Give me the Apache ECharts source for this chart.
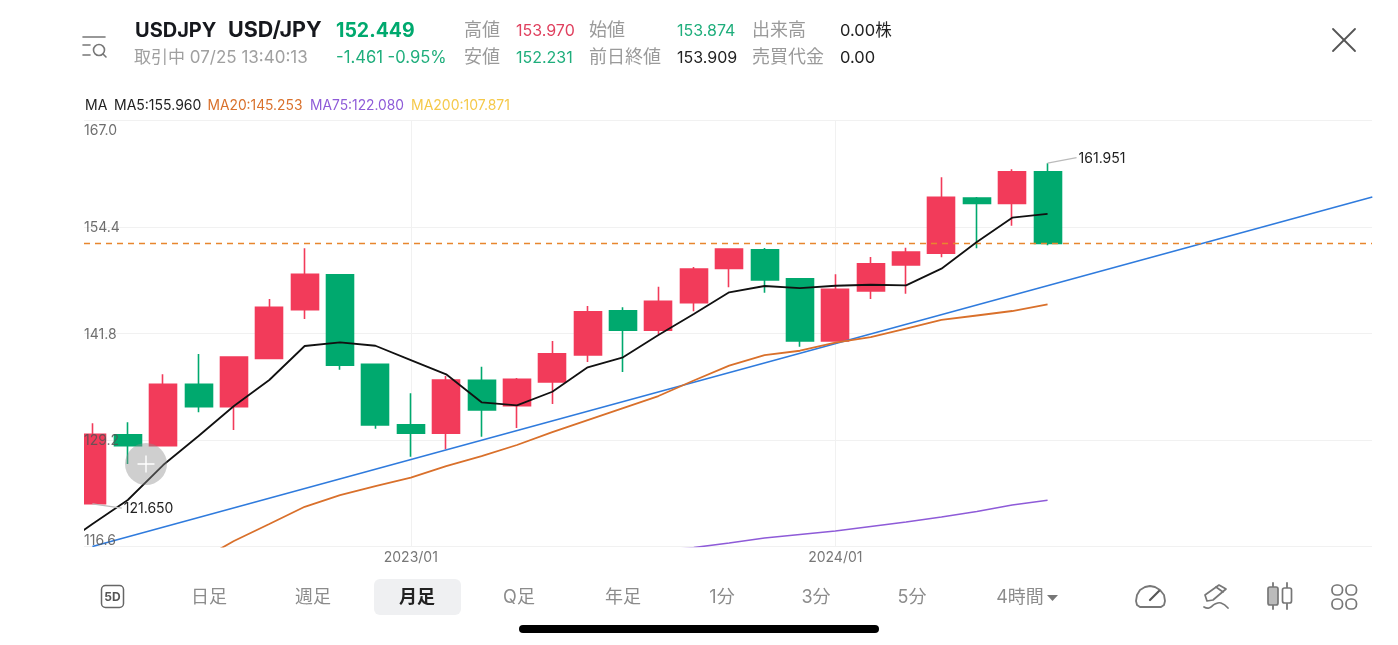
<!DOCTYPE html>
<html><head><meta charset="utf-8">
<style>html,body{margin:0;padding:0;background:#fff}#c{width:1398px;height:645px}</style>
<script src="https://cdn.jsdelivr.net/npm/echarts@6/dist/echarts.min.js"></script>
</head><body><div id="c"></div>
<script>
const months = ['2022/04','2022/05','2022/06','2022/07','2022/08','2022/09','2022/10','2022/11','2022/12','2023/01','2023/02','2023/03','2023/04','2023/05','2023/06','2023/07','2023/08','2023/09','2023/10','2023/11','2023/12','2024/01','2024/02','2024/03','2024/04','2024/05','2024/06','2024/07'];
// open, close, low, high
const ohlc = [
[121.65,129.87,121.65,131.17],[129.82,128.52,126.36,131.29],[128.52,135.79,128.52,136.97],[135.79,133.14,132.47,139.37],
[133.14,139.02,130.38,139.08],[138.86,144.90,138.86,145.88],[144.61,148.80,143.51,151.88],[148.75,138.04,137.51,148.80],
[138.15,130.97,130.53,138.15],[131.01,129.99,127.22,134.72],[129.99,136.30,128.10,136.77],[136.26,132.75,129.59,137.87],
[133.26,136.38,130.62,136.53],[136.06,139.41,133.46,140.91],[139.25,144.38,138.43,145.05],[144.50,142.18,137.24,144.90],
[142.18,145.61,141.74,147.34],[145.44,149.43,144.42,149.67],[149.51,151.80,147.26,151.80],[151.71,148.13,146.63,151.91],
[148.28,140.91,140.24,148.36],[140.91,147.03,140.91,148.80],[146.83,150.06,145.88,150.85],[149.90,151.44,146.51,151.95],
[151.29,157.91,150.81,160.28],[157.83,157.20,151.88,157.95],[157.20,160.94,154.55,161.23],[160.94,152.449,152.231,161.951]];
const ma5 = [116.3,119.26,122.10,126.24,129.67,133.22,136.30,140.32,140.76,140.35,138.66,136.97,133.66,133.30,134.91,137.80,138.98,141.62,144.11,146.67,147.42,147.18,147.45,147.57,147.50,149.47,152.62,155.50,155.96];
const ma5Start = -1;
const ma20 = [114.88,117.25,119.26,121.30,122.69,123.75,124.74,126.12,127.30,128.61,130.14,131.56,132.98,134.40,136.24,137.99,139.25,139.76,140.71,141.38,142.39,143.40,143.93,144.46,145.253];
const ma20Start = 3;
const ma75 = [116.06,116.48,117.01,117.60,118.02,118.43,118.96,119.49,120.09,120.74,121.51,122.08];
const ma75Start = 16;
const trendLine = [[0,116.6],[36.18,157.95]];
const lastPrice = 152.449;
const highLeader = [[27,161.951],[27.82,162.6]];
const lowLeader = [[0,121.65],[0.83,121.15]];
const yTicks = [116.6,129.2,141.8,154.4,167.0];
const yTicksInner = [129.2,141.8,154.4];
const yTicksOuter = [116.6,167.0];
const xTicks = [9,21];
const xMin = -0.238, xMax = 36.171;

const RED='#F23B5A', GREEN='#00A96E', CJK='Inter,"Noto Sans CJK JP","Noto Sans",sans-serif';
const idx = (arr,s)=>arr.map((v,i)=>[i+s,v]);

const headerRows = [
 {x:135,y:31,s:'USDJPY',c:'#16181d',z:20,w:'700'},
 {x:228,y:31,s:'USD/JPY',c:'#16181d',z:21.5,w:'700'},
 {x:336,y:31,s:'152.449',c:GREEN,z:19.5,w:'700'},
 {x:134,y:58,s:'取引中 07/25 13:40:13',c:'#a0a0a0',z:17},
 {x:336,y:58,s:'-1.461 -0.95%',c:'#1FAE7C',z:16.6},
 {x:464,y:31,s:'高値',c:'#9a9a9a',z:18},{x:516,y:31,s:'153.970',c:'#E0415F',z:16},
 {x:589,y:31,s:'始値',c:'#9a9a9a',z:18},{x:677,y:31,s:'153.874',c:'#1FAE7C',z:16},
 {x:752,y:31,s:'出来高',c:'#9a9a9a',z:18},{x:840,y:31,s:'0.00株',c:'#222',z:16.5},
 {x:464,y:58,s:'安値',c:'#9a9a9a',z:18},{x:516,y:58,s:'152.231',c:'#1FAE7C',z:16},
 {x:589,y:58,s:'前日終値',c:'#9a9a9a',z:18},{x:677,y:58,s:'153.909',c:'#222',z:16},
 {x:752,y:58,s:'売買代金',c:'#9a9a9a',z:18},{x:840,y:58,s:'0.00',c:'#222',z:16.5},
 {x:85,y:105.5,s:'MA',c:'#222',z:14},{x:114,y:105.5,s:'MA5:155.960',c:'#222',z:14},
 {x:207.5,y:105.5,s:'MA20:145.253',c:'#D9702B',z:13.8},{x:310,y:105.5,s:'MA75:122.080',c:'#8E5BD8',z:13.8},
 {x:411,y:105.5,s:'MA200:107.871',c:'#F5C94A',z:14}
];
const tabs = ['日足','週足','月足','Q足','年足','1分','3分','5分','4時間'];
const tabX = [209,313,417,519,623,722,816,912,1020];

function t(o){return {type:'text',x:o.x,y:o.y,z:20,silent:true,style:{text:o.s,fill:o.c,font:(o.w||'400')+' '+o.z+'px '+CJK,verticalAlign:'middle',align:o.a||'left'}};}
const stroke=(c,w)=>({stroke:c,lineWidth:w,fill:'none',lineCap:'round',lineJoin:'round'});
function pl(points,c,w,smooth){return {type:'polyline',z:20,silent:true,shape:{points,smooth:smooth||0},style:stroke(c,w)};}

const graphics = [
 // left edge of the plot: the first candle is cut off here
 {type:'rect',z:9,silent:true,shape:{x:60,y:121,width:24,height:426},style:{fill:'#fff'}},
 ...headerRows.map(t),
 {type:'rect',z:10,silent:true,shape:{x:374,y:579,width:87,height:36,r:6},style:{fill:'#EFF0F2'}},
 ...tabs.map((s,i)=>t({x:tabX[i],y:598,s,c:i===2?'#222':'#8c8c8c',z:18,w:i===2?'600':'400',a:'center'})),
 {type:'polygon',z:20,silent:true,shape:{points:[[1047,595],[1058,595],[1052.5,601]]},style:{fill:'#777'}},
 // 5D
 {type:'rect',z:20,silent:true,shape:{x:101.5,y:585.5,width:22,height:22,r:4},style:{stroke:'#666',lineWidth:1.5,fill:'none'}},
 t({x:112.5,y:597,s:'5D',c:'#555',z:12,w:'700',a:'center'}),
 // top-left icon
 pl([[83,37],[105,37]],'#777',1.6),pl([[83,45],[90,45]],'#777',1.6),pl([[83,55],[90,55]],'#777',1.6),
 {type:'circle',z:20,silent:true,shape:{cx:99,cy:50,r:5.5},style:{stroke:'#777',lineWidth:1.6,fill:'none'}},
 pl([[103,54],[106,57]],'#777',1.6),
 // close
 pl([[1333,29],[1355,51]],'#555',1.8),pl([[1355,29],[1333,51]],'#555',1.8),
 // gauge
 pl([[1140,607],[1161,607],[1164,605],[1165,601],[1164,595],[1160,590],[1155,587],[1150,586],[1145,587],[1140,590],[1137,595],[1136,601],[1137,605],[1140,607]],'#777',1.8),
 pl([[1150,600],[1159,591]],'#555',2.2),
 // pencil
 pl([[1207,601],[1205,595],[1219,585],[1226,589],[1213,600],[1207,601]],'#777',1.7),
 pl([[1216,587],[1223,592]],'#777',1.7),
 pl([[1204,607],[1209,608],[1215,604],[1221,603],[1228,608]],'#777',1.7,0.5),
 // candles
 pl([[1273,583],[1273,609]],'#777',1.8),pl([[1287,583],[1287,609]],'#777',1.8),
 {type:'rect',z:21,silent:true,shape:{x:1268,y:587,width:10,height:18,r:2},style:{stroke:'#777',lineWidth:1.7,fill:'#bbb'}},
 {type:'rect',z:21,silent:true,shape:{x:1282.5,y:588,width:9,height:15,r:2},style:{stroke:'#777',lineWidth:1.7,fill:'#fff'}},
 // grid icon
 ...[[1332,585],[1346,585],[1332,599],[1346,599]].map(p=>({type:'rect',z:20,silent:true,shape:{x:p[0],y:p[1],width:10.5,height:10,r:4.5},style:{stroke:'#777',lineWidth:1.7,fill:'none'}})),
 // home indicator
 {type:'rect',z:20,silent:true,shape:{x:519,y:625,width:360,height:8,r:4},style:{fill:'#000'}},
 // crosshair button
 {type:'circle',z:15,silent:true,shape:{cx:146,cy:464,r:21},style:{fill:'rgba(140,140,140,0.42)'}},
 pl([[138,464],[154,464]],'#fff',1.4),pl([[146,456],[146,472]],'#fff',1.4)
];

const chart = echarts.init(document.getElementById('c'));
const lineS = (name,data,color,w,extra)=>Object.assign({name,type:'line',data,showSymbol:false,symbol:'none',silent:true,lineStyle:{color,width:w},z:4,animation:false},extra||{});
const leader = (name,data,txt)=>lineS(name,data,'#bbbbbb',1.2,{endLabel:{show:true,formatter:txt,color:'#222',fontSize:14,distance:2,offset:[0,1],fontFamily:'Inter,sans-serif'}});
const yLabelBase = {inside:true,margin:0,formatter:v=>v.toFixed(1),color:'rgba(85,85,85,0.85)',fontSize:14,fontFamily:'Inter,sans-serif'};
const labelAxis = (ticks,extra)=>({type:'value',min:yTicks[0],max:yTicks[4],position:'left',z:6,axisLine:{show:false},axisTick:{show:false,customValues:ticks},splitLine:{show:false},
   axisLabel:Object.assign({},yLabelBase,{customValues:ticks},extra)});

chart.setOption({
 animation:false,
 backgroundColor:'#fff',
 grid:{left:84,right:26,top:120.5,bottom:98.5},
 xAxis:{type:'value',min:xMin,max:xMax,
  axisLine:{show:false},
  axisTick:{show:false,customValues:xTicks},
  splitLine:{show:true,lineStyle:{color:'#f1f1f1',width:1}},
  axisLabel:{customValues:xTicks,formatter:v=>months[v],color:'#777',fontSize:14,margin:4,fontFamily:CJK,showMinLabel:true,showMaxLabel:true}},
 yAxis:[
  {type:'value',min:yTicks[0],max:yTicks[4],axisLine:{show:false},axisTick:{show:false,customValues:yTicks},axisLabel:{show:false},
   splitLine:{show:true,lineStyle:{color:'#f1f1f1',width:1}}},
  labelAxis(yTicksInner,{verticalAlign:'top',lineHeight:2}),
  labelAxis(yTicksOuter,{verticalAlignMinLabel:'bottom',verticalAlignMaxLabel:'top',padding:[4,0,0,0],lineHeight:12})
 ],
 series:[
  {name:'K',type:'candlestick',data:ohlc.map((d,i)=>[i,...d]),barWidth:27.5,z:2,silent:true,
   itemStyle:{color:RED,color0:GREEN,borderColor:RED,borderColor0:GREEN,borderWidth:1.6}},
  lineS('Trend',trendLine,'#2F7BDD',1.6,{z:3}),
  lineS('Last',[[xMin,lastPrice],[xMax,lastPrice]],'#E8862E',1.4,{lineStyle:{color:'#E8862E',width:1.4,type:[6,5]},z:3}),
  lineS('MA20',idx(ma20,ma20Start),'#D9702B',1.8),
  lineS('MA75',idx(ma75,ma75Start),'#8E5BD8',1.6),
  lineS('MA5',idx(ma5,ma5Start),'#111',1.8),
  leader('H',highLeader,'161.951'),
  leader('L',lowLeader,'121.650')
 ],
 graphic:{elements:graphics}
});
</script></body></html>
